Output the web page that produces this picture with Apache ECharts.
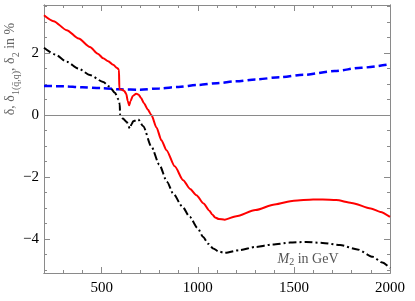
<!DOCTYPE html>
<html><head><meta charset="utf-8">
<script src="https://cdn.jsdelivr.net/npm/echarts@6/dist/echarts.min.js"></script>
<style>html,body{margin:0;padding:0;background:#fff}#c{width:415px;height:301px}</style>
</head><body><div id="c"></div>
<script>
const redX = [200,250,318,380,439,480,508,534,560,580,590,592,605,618,628,636,643,650,662,680,692,705,720,740,759,785,811,837,880,924,960,993,1030,1060,1075,1090,1110,1140,1200,1300,1400,1500,1600,1650,1720,1800,1900,1950,2000];
const redY = [3.22,3.03,2.74,2.47,2.2,1.98,1.83,1.74,1.62,1.52,1.47,0.84,0.82,0.78,0.68,0.45,0.32,0.45,0.62,0.69,0.66,0.55,0.38,0.18,0,-0.4,-0.81,-1.13,-1.65,-2.1,-2.38,-2.58,-2.85,-3.08,-3.2,-3.3,-3.35,-3.37,-3.26,-3.06,-2.88,-2.76,-2.72,-2.72,-2.74,-2.83,-3.01,-3.12,-3.28];
const blackX = [200,260,318,380,439,508,540,569,588,594,596,612,630,647,655,664,690,716,759,800,840,872,920,958,1000,1028,1055,1080,1110,1140,1218,1300,1390,1480,1563,1650,1740,1830,1911,1960,2000];
const blackY = [2.17,1.95,1.72,1.5,1.29,1.07,0.92,0.72,0.5,0.35,0.0,-0.12,-0.22,-0.43,-0.3,-0.2,-0.14,-0.36,-1.02,-1.6,-2.15,-2.53,-2.95,-3.28,-3.65,-3.93,-4.15,-4.3,-4.4,-4.44,-4.35,-4.25,-4.17,-4.11,-4.09,-4.12,-4.19,-4.33,-4.57,-4.75,-4.93];
const blueX = [200,300,400,500,600,700,800,900,1000,1100,1200,1300,1426,1550,1712,1850,2000];
const blueY = [0.94,0.93,0.9,0.87,0.83,0.82,0.86,0.91,0.97,1.03,1.09,1.15,1.22,1.3,1.42,1.53,1.64];
const xMajor = [500,1000,1500,2000];
const yMajor = [-4,-2,0,2];
const yMinor = [-5,-4.5,-4,-3.5,-3,-2.5,-2,-1.5,-1,-0.5,0,0.5,1,1.5,2,2.5,3,3.5];

const zip = (a,b) => a.map((v,i)=>[v,b[i]]);
const FONT = 'Liberation Serif';
const AX = '#8a8a8a';
const X0 = 200, X1 = 2000, Y0 = -5.09, Y1 = 3.55;

function xAx(pos, major, showLabel){
  return {type:'value', position:pos, min:X0, max:X1, interval:100,
    axisLine:{show:true, onZero:false, lineStyle:{color:AX, width:1}},
    axisTick:{show:true, inside:true, length: major?6:3, lineStyle:{color:AX},
      customValues: major ? xMajor : undefined},
    axisLabel:{show:showLabel, customValues: xMajor, color:'#000', fontFamily:FONT, fontSize:15, margin:8,
      formatter: v => String(v)},
    splitLine:{show:false}};
}
function yAx(pos, major, showLabel){
  return {type:'value', position:pos, min:Y0, max:Y1,
    axisLine:{show:true, onZero:false, lineStyle:{color:AX, width:1}},
    axisTick:{show:true, inside:true, length: major?6:3, lineStyle:{color:AX},
      customValues: major ? yMajor : yMinor},
    axisLabel:{show:showLabel, customValues: yMajor, color:'#000', fontFamily:FONT, fontSize:15, margin:5,
      formatter: v => String(v).replace('-', '\u2212')},
    splitLine:{show:false}};
}

const chart = echarts.init(document.getElementById('c'), null, {renderer:'canvas'});
chart.setOption({
  animation:false,
  grid:{left:44, right:25, top:5, bottom:28, containLabel:false},
  xAxis:[xAx('bottom',true,true), xAx('bottom',false,false), xAx('top',true,false), xAx('top',false,false)],
  yAxis:[yAx('left',true,true), yAx('left',false,false), yAx('right',true,false), yAx('right',false,false)],
  series:[
    {type:'line', data:zip(blueX,blueY), showSymbol:false, smooth:0.3, smoothMonotone:'x',
      lineStyle:{color:'#0000ff', width:2.5, type:[8,4]},
      markLine:{silent:true, symbol:['none','none'], label:{show:false},
        lineStyle:{color:'#8a8a8a', width:1, type:'solid'}, data:[{yAxis:0}]}},
    {type:'line', data:zip(blackX,blackY), showSymbol:false, smooth:0.25, smoothMonotone:'x',
      lineStyle:{color:'#000000', width:2, type:[8,3,2,3]}},
    {type:'line', data:zip(redX,redY), showSymbol:false, smooth:0.25, smoothMonotone:'x',
      lineStyle:{color:'#ff0000', width:2}}
  ],
  graphic:[
    {type:'text', x:12, y:69, rotation:Math.PI/2,
      style:{text:'{a|δ, δ}{s|1(q̄,q)}{a|, δ}{s|2}{a| in %}', fill:'#666', align:'center', verticalAlign:'middle',
        rich:{a:{fontFamily:FONT, fontSize:14, fill:'#666', lineHeight:18, verticalAlign:'top'},
              s:{fontFamily:FONT, fontSize:10, fill:'#666', lineHeight:18, verticalAlign:'bottom', padding:[6,0,0,0]}}}},
    {type:'text', x:308, y:259,
      style:{text:'{i|M}{s|2}{a| in GeV}', fill:'#555', align:'center', verticalAlign:'middle',
        rich:{i:{fontFamily:FONT, fontStyle:'italic', fontSize:14, fill:'#555', lineHeight:18},
              s:{fontFamily:FONT, fontSize:10, fill:'#555', lineHeight:18, padding:[6,0,0,0]},
              a:{fontFamily:FONT, fontSize:14, fill:'#555', lineHeight:18}}}}
  ]
});
</script></body></html>
